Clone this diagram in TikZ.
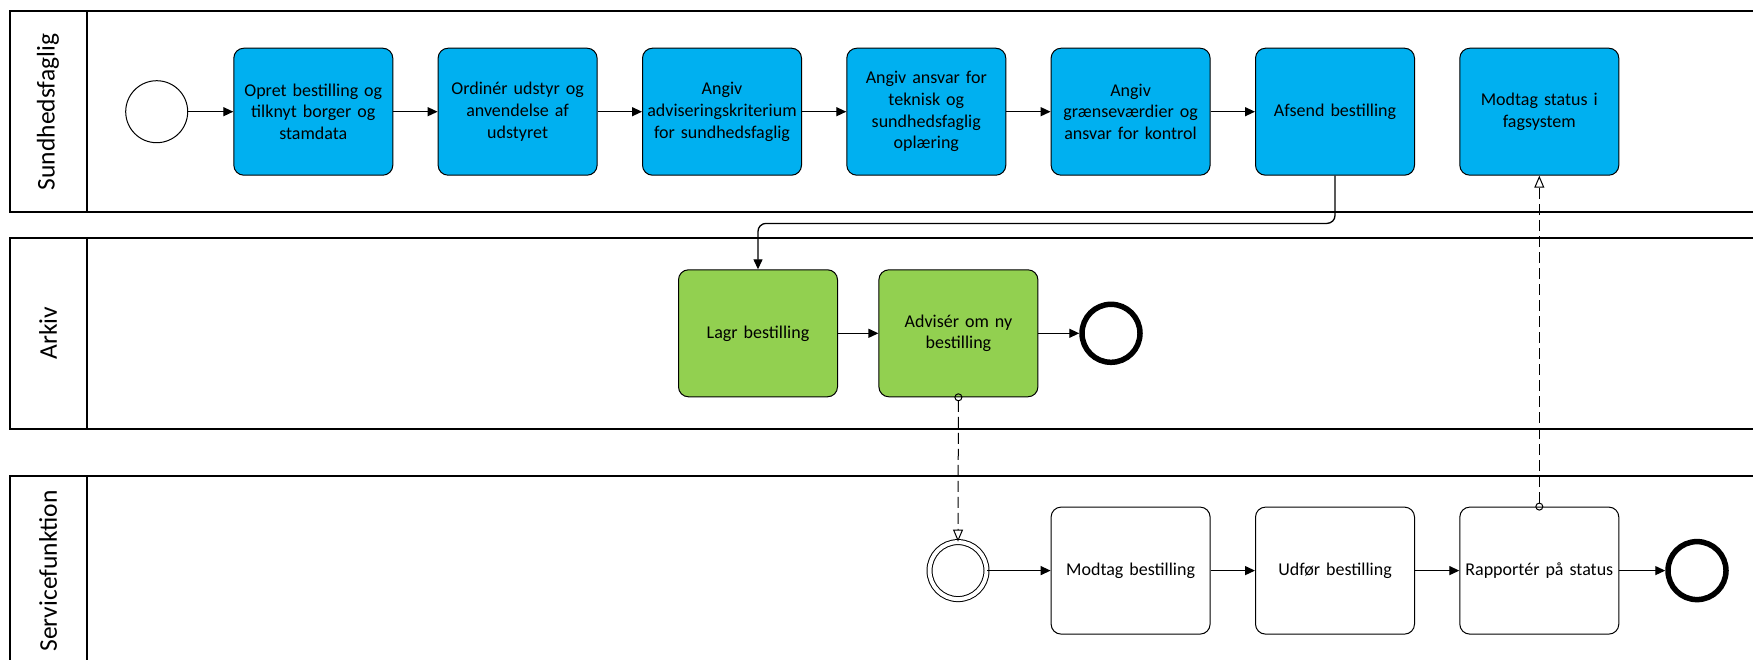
\documentclass[tikz,border=0pt]{standalone}
\usepackage{fontspec}
\setmainfont{Carlito}
\usetikzlibrary{arrows.meta}
\definecolor{taskblue}{HTML}{00B0F0}
\definecolor{taskgreen}{HTML}{92D050}
\begin{document}
\begin{tikzpicture}[x=1pt,y=-1pt,
  task/.style={draw, line width=1pt, rounded corners=10pt, minimum width=159pt, minimum height=127pt, text width=155pt, align=center, font=\fontsize{18}{21.7}\selectfont, inner sep=0pt},
  bluetask/.style={task, fill=taskblue},
  greentask/.style={task, fill=taskgreen},
  whitetask/.style={task, fill=white},
  flow/.style={line width=1.3pt, -{Triangle[length=10pt,width=9pt]}},
  msg/.style={line width=1pt, dash pattern=on 11pt off 5pt, {Circle[open,length=8pt,width=8pt]}-{Triangle[open,length=12pt,width=10pt]}, shorten <=-4pt},
  pool/.style={line width=2pt},
  laneline/.style={line width=1.3pt},
  lanelabel/.style={rotate=90, font=\fontsize{25.5}{30}\selectfont, inner sep=0pt},
  startev/.style={circle, draw, line width=1pt, minimum size=62pt, inner sep=0pt, fill=white},
  interev/.style={circle, draw, line width=1pt, double, double distance=4pt, minimum size=57pt, inner sep=0pt},
  endev/.style={circle, draw, line width=5.5pt, minimum size=58pt, inner sep=0pt, fill=white}
]
\useasboundingbox (0,0) rectangle (1753,659);
\clip (0,0) rectangle (1753,659);
\fill[white] (0,0) rectangle (1753,659);

% pools
\draw[pool] (1800,11) -- (10,11) -- (10,212) -- (1800,212);
\draw[laneline] (87,11) -- (87,212);
\draw[pool] (1800,238) -- (10,238) -- (10,429) -- (1800,429);
\draw[laneline] (87,238) -- (87,429);
\draw[pool] (1800,476) -- (10,476) -- (10,700);
\draw[laneline] (87,476) -- (87,700);

\node[lanelabel] (l1) at (48,112) {Sundhedsfaglig};
\node[lanelabel] (l2) at (48,333) {Arkiv};
\node[lanelabel] (l3) at (48,571) {Servicefunktion};

% lane 1
\node[startev] (s) at (156.7,111.7) {};
\node[bluetask] (t1) at (313.3,111.7) {Opret bestilling og\\tilknyt borger og\\stamdata};
\node[bluetask] (t2) at (517.6,111.7) {Ordinér udstyr og\\anvendelse af\\udstyret};
\node[bluetask] (t3) at (722.0,111.7) {Angiv\\adviseringskriterium\\for sundhedsfaglig};
\node[bluetask] (t4) at (926.3,111.7) {Angiv ansvar for\\teknisk og\\sundhedsfaglig\\oplæring};
\node[bluetask] (t5) at (1130.6,111.7) {Angiv\\grænseværdier og\\ansvar for kontrol};
\node[bluetask] (t6) at (1335.0,111.7) {Afsend bestilling};
\node[bluetask] (t7) at (1539.3,111.7) {Modtag status i\\fagsystem};

% lane 2
\node[greentask] (a1) at (758,333.3) {Lagr bestilling};
\node[greentask] (a2) at (958.4,333.3) {Advisér om ny\\bestilling};
\node[endev] (e1) at (1111,333.3) {};

% lane 3
\node[interev] (i) at (958,570.6) {};
\node[whitetask] (r1) at (1130.6,570.6) {Modtag bestilling};
\node[whitetask] (r2) at (1335.0,570.6) {Udfør bestilling};
\node[whitetask] (r3) at (1539.3,570.6) {Rapportér på status};
\node[endev] (e2) at (1697,570.6) {};

% sequence flows
\draw[flow] (s) -- (t1);
\draw[flow] (t1) -- (t2);
\draw[flow] (t2) -- (t3);
\draw[flow] (t3) -- (t4);
\draw[flow] (t4) -- (t5);
\draw[flow] (t5) -- (t6);
\draw[flow, rounded corners=8pt] (t6.south) -- ++(0,47.7) -| (a1.north);
\draw[flow] (a1) -- (a2);
\draw[flow] (a2) -- (e1);
\draw[flow] (i) -- (r1);
\draw[flow] (r1) -- (r2);
\draw[flow] (r2) -- (r3);
\draw[flow] (r3) -- (e2);

% message flows
\draw[msg] (a2.south) -- (i.north);
\draw[msg] (r3.north) -- (t7.south);
\end{tikzpicture}
\end{document}
